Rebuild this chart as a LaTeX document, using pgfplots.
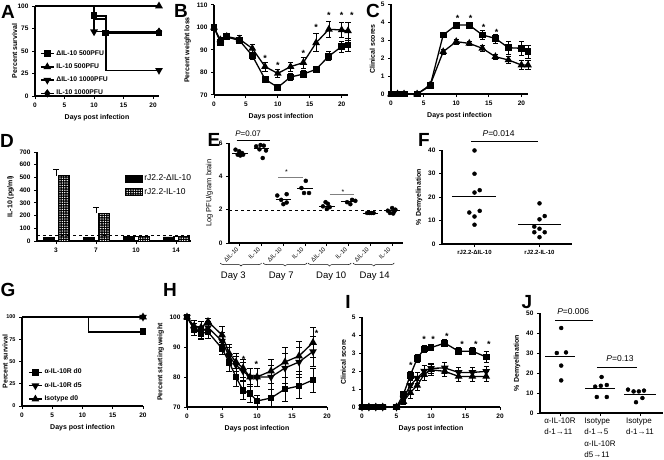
\documentclass[border=0pt]{standalone}
\usepackage{fontspec}
\setmainfont{Liberation Sans}
\usepackage{pgfplots}
\pgfplotsset{compat=1.18}
\usetikzlibrary{patterns,patterns.meta,decorations.pathreplacing}

\newcommand\tk{\fontsize{6.5}{7}\selectfont\bfseries}
\newcommand\lb{\fontsize{7}{8}\selectfont\bfseries}
\newcommand\rg[1]{\fontsize{#1}{#1}\selectfont}

\pgfplotsset{
  gp/.style={scale only axis, anchor=south west,
    axis x line*=bottom, axis y line*=left,
    tick align=outside, major tick length=3pt,
    axis line style={line width=1.1pt},
    every tick/.style={black, line width=1pt},
    tick label style={font=\tk},
    /pgf/number format/assume math mode=true,
    label style={font=\lb}, ylabel shift=-1pt,
    enlargelimits=false, clip=false},
  ln/.style={black, line width=1.3pt, mark options={solid, fill=black}},
  sq/.style={ln, mark=square*, mark size=2.8pt},
  tu/.style={ln, mark=triangle*, mark size=3.2pt},
  td/.style={ln, mark=triangle*, mark size=3.2pt, mark options={solid, fill=black, rotate=180}},
  dm/.style={ln, mark=diamond*, mark size=3.2pt},
  eb/.style={error bars/y dir=both, error bars/y explicit,
    error bars/error bar style={line width=0.7pt},
    error bars/error mark options={rotate=90, mark size=2.6pt, line width=0.7pt}},
  dot/.style={only marks, mark=*, mark size=2pt, black, forget plot},
  legA/.style={legend style={draw=none, fill=none, font=\fontsize{6.8}{7}\selectfont\bfseries, inner sep=0pt, row sep=3pt}, legend cell align=left,
    legend image code/.code={\draw[##1,mark=none] (0pt,0pt) -- (13pt,0pt); \draw[##1] plot coordinates {(6.5pt,0pt)};}},
}
\tikzset{star/.style={font=\fontsize{9}{9}\selectfont\bfseries, inner sep=0pt, anchor=base, yshift=-5pt},
  pl/.style={font=\fontsize{19}{19}\selectfont\bfseries},
  chk/.style={fill=black, draw=black, postaction={pattern={Dots[radius=0.75pt, distance=2.4pt]}, pattern color=white}}}
\newcommand\mline[3]{\addplot[black, line width=0.8pt, forget plot] coordinates {(#1,#3)(#2,#3)};}

\begin{document}
\begin{tikzpicture}
\path[use as bounding box] (0pt,0pt) rectangle (664pt,459pt);

% ---------- A ----------
\begin{axis}[gp, legA, at={(35pt,363pt)}, width=124pt, height=90pt,
  xmin=0, xmax=21, ymin=0, ymax=100, xtick={0,5,10,15,20}, ytick={0,25,50,75,100},
  xlabel={Days post infection}, ylabel={Percent survival},
  ylabel style={at={(axis description cs:-0.165,0.5)}, anchor=center},
  legend style={at={(0.04,0.53)}, anchor=north west}]
\addlegendimage{sq}\addlegendentry{ΔIL-10 500PFU}
\addlegendimage{tu}\addlegendentry{IL-10 500PFU}
\addlegendimage{td}\addlegendentry{ΔIL-10 1000PFU}
\addlegendimage{dm}\addlegendentry{IL-10 1000PFU}
\addplot[ln, forget plot] coordinates {(0,100)(10,100)(10,89)(12,89)(12,70)(21,70)};
\addplot[sq, only marks, forget plot] coordinates {(10,89)(12,70)(21,70)};
\addplot[ln, forget plot] coordinates {(0,100)(21,100)};
\addplot[tu, only marks, forget plot] coordinates {(21,100)};
\addplot[ln, forget plot] coordinates {(0,100)(10,100)(10,71.4)(12,71.4)(12,28.6)(21,28.6)};
\addplot[td, only marks, forget plot] coordinates {(10,71.4)(21,28.6)};
\addplot[ln, forget plot] coordinates {(0,100)(10,100)(10,85.7)(12,85.7)(12,71.4)(21,71.4)};
\addplot[dm, only marks, forget plot] coordinates {(21,71.4)};
\end{axis}

% ---------- B ----------
\begin{axis}[gp, at={(214pt,364pt)}, width=134pt, height=90pt,
  xmin=0, xmax=21, ymin=70, ymax=110, xtick={0,5,10,15,20}, ytick={70,80,90,100,110},
  xlabel={Days post infection}, ylabel={Percent weight loss}]
\addplot[tu, eb] coordinates {(0,100)+-(0,0) (1,94.5)+-(0,1) (2,96)+-(0,1) (4,94.8)+-(0,1.5)
  (6,90.7)+-(0,1.8) (8,82.6)+-(0,2) (10,79.6)+-(0,1.8) (12,82.6)+-(0,2) (14,84.4)+-(0,2.5)
  (16,93.2)+-(0,4) (18,99.2)+-(0,3.5) (20,98.9)+-(0,3.5) (21,98.5)+-(0,4)};
\addplot[sq, eb] coordinates {(0,100)+-(0,0) (1,93.5)+-(0,1.5) (2,95.8)+-(0,1) (4,94.2)+-(0,1.2)
  (6,87.5)+-(0,1.5) (8,77)+-(0,1.2) (10,73.4)+-(0,1.2) (12,78)+-(0,1.5) (14,79.3)+-(0,1.5)
  (16,81.4)+-(0,1.5) (18,87.3)+-(0,2) (20,91.5)+-(0,2.5) (21,92.2)+-(0,3)};
\foreach \d/\v in {8/87,10/84,14/89.3,16/101,18/106.3,20/106.3,21.6/106.3}
  {\edef\tmp{\noexpand\node[star] at (axis cs:\d,\v) {*};}\tmp}
\end{axis}

% ---------- C ----------
\begin{axis}[gp, at={(391pt,365pt)}, width=137pt, height=90pt,
  xmin=0, xmax=21, ymin=0, ymax=5, xtick={0,5,10,15,20}, ytick={0,1,...,5},
  xlabel={Days post infection}, ylabel={Clinical scores}]
\addplot[tu, eb] coordinates {(0,0)+-(0,0) (1,0)+-(0,0) (2,0)+-(0,0) (4,0)+-(0,0)
  (6,0.5)+-(0,0.1) (8,2.35)+-(0,0.15) (10,2.91)+-(0,0.15) (12,2.81)+-(0,0.1) (14,2.54)+-(0,0.15)
  (16,2.07)+-(0,0.15) (18,1.89)+-(0,0.2) (20,1.61)+-(0,0.25) (21,1.61)+-(0,0.25)};
\addplot[sq, eb] coordinates {(0,0)+-(0,0) (1,0)+-(0,0) (2,0)+-(0,0) (4,0)+-(0,0)
  (6,0.45)+-(0,0.1) (8,3.28)+-(0,0.15) (10,3.83)+-(0,0.12) (12,3.83)+-(0,0.15) (14,3.28)+-(0,0.25)
  (16,3.09)+-(0,0.25) (18,2.57)+-(0,0.35) (20,2.54)+-(0,0.4) (21,2.35)+-(0,0.35)};
\foreach \d/\v in {10.2/4.3,12.2/4.3,14.2/3.83,16.2/3.52}
  {\edef\tmp{\noexpand\node[star] at (axis cs:\d,\v) {*};}\tmp}
\end{axis}

% ---------- D ----------
\begin{axis}[gp, at={(37pt,218pt)}, width=154pt, height=89pt,
  xmin=0.525, xmax=4.375, ymin=0, ymax=700, ytick={0,100,...,700},
  xtick={1,2,3,4}, xticklabels={3,7,10,14}, ylabel={IL-10 (pg/ml)},
  legend style={at={(0.57,0.77)}, anchor=north west, draw=none, fill=none,
    font=\rg{8.5}, inner sep=0pt, row sep=2pt}, legend cell align=left,
  legend image code/.code={\draw[#1] (0pt,-3.5pt) rectangle (17pt,3.5pt);}]
\addlegendimage{fill=black, draw=black}\addlegendentry{rJ2.2-ΔIL-10}
\addlegendimage{chk}\addlegendentry{rJ2.2-IL-10}
\addplot[ybar, bar width=11pt, bar shift=-7.5pt, fill=black, draw=black, forget plot]
  coordinates {(1,30)(2,28)(3,35)(4,33)};
\addplot[ybar, bar width=11pt, bar shift=7.5pt, chk, line width=0.7pt, forget plot,
  error bars/y dir=plus, error bars/y explicit, error bars/error bar style={line width=0.8pt},
  error bars/error mark options={rotate=90, mark size=3pt, line width=0.8pt}]
  coordinates {(1,515)+-(0,45) (2,220)+-(0,45) (3,35)+-(0,0) (4,35)+-(0,0)};
\addplot[dashed, line width=0.8pt, forget plot] coordinates {(0.525,45)(4.375,45)};
\end{axis}

% ---------- E ----------
\begin{axis}[gp, at={(229pt,216pt)}, width=174pt, height=100pt,
  xmin=0.5, xmax=8.5, ymin=0, ymax=6, ytick={0,2,4,6}, xtick={1,...,8},
  xticklabels={ΔIL-10,IL-10,ΔIL-10,IL-10,ΔIL-10,IL-10,ΔIL-10,IL-10},
  xticklabel style={rotate=45, anchor=east, font=\rg{6}},
  ylabel={Log PFU/gram brain}, ylabel style={font=\rg{7.5}}]
\addplot[dashed, line width=0.8pt, forget plot] coordinates {(0.5,1.95)(8.5,1.95)};
\addplot[dot] coordinates {(0.8,5.6)(0.97,5.5)(1.1,5.4)(0.9,5.3)(1.15,5.3)(1.02,5.25)};
\addplot[dot] coordinates {(1.75,5.8)(1.95,5.88)(2.1,5.84)(1.9,5.62)(2.2,5.55)(2.05,5.1)};
\addplot[dot] coordinates {(2.72,2.85)(3.15,2.93)(2.9,2.59)(3.0,2.33)(3.15,2.43)};
\addplot[dot] coordinates {(4.03,3.73)(3.83,3.3)(3.95,3.0)(4.18,3.0)};
\addplot[dot] coordinates {(4.94,2.45)(5.05,2.35)(4.82,2.2)(5.0,2.04)(5.13,2.15)};
\addplot[dot] coordinates {(5.93,2.45)(6.16,2.59)(6.31,2.53)(6.08,2.33)};
\addplot[dot] coordinates {(6.85,1.8)(6.95,1.8)(7.05,1.8)(7.15,1.8)};
\addplot[dot] coordinates {(8.0,2.1)(7.8,1.94)(8.1,1.9)(7.9,1.8)(8.05,1.77)(8.15,2.0)};
\mline{0.64}{1.36}{5.4}
\mline{1.64}{2.36}{5.65}
\mline{2.64}{3.36}{2.63}
\mline{3.64}{4.36}{3.25}
\mline{4.64}{5.36}{2.2}
\mline{5.64}{6.36}{2.5}
\mline{6.64}{7.36}{1.8}
\mline{7.64}{8.36}{1.95}
\draw[line width=0.7pt] (axis cs:0.85,6.13) -- (axis cs:2.38,6.13);
\node[font=\rg{8}] at (axis cs:1.38,6.57) {\textit{P}=0.07};
\draw[line width=0.7pt, gray] (axis cs:2.76,3.91) -- (axis cs:3.88,3.91);
\node[star, font=\rg{7}] at (axis cs:3.14,4.41) {*};
\draw[line width=0.7pt, gray] (axis cs:5.13,2.93) -- (axis cs:6.23,2.93);
\node[star, font=\rg{7}] at (axis cs:5.74,3.21) {*};
\foreach \a/\b in {0.1/2.0,2.07/4.09,4.13/6.12,6.2/8.1}
  {\edef\tmp{\noexpand\draw[line width=0.5pt, decorate, decoration={brace, mirror, amplitude=3pt}] ([yshift=-20pt]axis cs:\a,0) -- ([yshift=-20pt]axis cs:\b,0);}\tmp}
\node[font=\rg{9.5}] at ([yshift=-33pt]axis cs:0.7,0) {Day 3};
\node[font=\rg{9.5}] at ([yshift=-33pt]axis cs:2.9,0) {Day 7};
\node[font=\rg{9.5}] at ([yshift=-33pt]axis cs:5.2,0) {Day 10};
\node[font=\rg{9.5}] at ([yshift=-33pt]axis cs:7.2,0) {Day 14};
\end{axis}

% ---------- F ----------
\begin{axis}[gp, at={(442pt,215pt)}, width=130pt, height=94pt,
  xmin=0.5, xmax=2.5, ymin=0, ymax=40, ytick={0,10,...,40},
  xtick={1,2}, xticklabels={rJ2.2-ΔIL-10, rJ2.2-IL-10}, xticklabel style={font=\rg{6}\bfseries},
  ylabel={\% Demyelination}]
\addplot[dot] coordinates {(1,39.8)(1,29.9)(1,21.9)(1.08,22.9)(1.08,14.1)(0.92,13.4)(1,11.7)(1,8.2)};
\addplot[dot] coordinates {(2,17.3)(2.08,11.9)(2,10.5)(1.92,7.4)(2,6.5)(1.92,5.0)(2.08,5.0)(2,2.9)};
\mline{0.65}{1.33}{20.4}
\mline{1.67}{2.33}{8.4}
\draw[line width=0.7pt] (axis cs:0.95,43.6) -- (axis cs:1.98,43.6);
\node[font=\rg{8.5}] at (axis cs:1.37,47) {\textit{P}=0.014};
\end{axis}

% ---------- G ----------
\begin{axis}[gp, legA, at={(22pt,53pt)}, width=121pt, height=89pt,
  xmin=0, xmax=20, ymin=0, ymax=100, xtick={0,5,10,15,20}, ytick={0,25,50,75,100},
  yticklabel style={font=\fontsize{5.5}{6}\selectfont\bfseries},
  xlabel={Days post infection}, ylabel={Percent survival},
  ylabel style={at={(axis description cs:-0.14,0.5)}, anchor=center},
  legend style={at={(0.05,0.44)}, anchor=north west}]
\addlegendimage{sq}\addlegendentry{α-IL-10R d0}
\addlegendimage{td}\addlegendentry{α-IL-10R d5}
\addlegendimage{tu}\addlegendentry{Isotype d0}
\addplot[ln, forget plot] coordinates {(0,100)(11,100)(11,83.3)(20,83.3)};
\addplot[sq, only marks, forget plot] coordinates {(20,83.3)};
\addplot[ln, forget plot] coordinates {(0,100)(20,100)};
\addplot[td, only marks, forget plot] coordinates {(20,100)};
\addplot[tu, only marks, forget plot] coordinates {(20,100)};
\end{axis}

% ---------- H ----------
\begin{axis}[gp, at={(187pt,52pt)}, width=140pt, height=90pt,
  xmin=0, xmax=20, ymin=70, ymax=100, xtick={0,5,10,15,20}, ytick={70,80,90,100},
  xlabel={Days post infection}, ylabel={Percent starting weight}]
\addplot[tu, eb] coordinates {(0,100)+-(0,0) (1,97)+-(0,2) (2,96.5)+-(0,2) (3,98.5)+-(0,1)
  (5,94)+-(0,3) (6,88)+-(0,3) (7,85)+-(0,3) (8,83)+-(0,3) (9,80)+-(0,3) (10,80)+-(0,3)
  (12,82)+-(0,4) (14,85)+-(0,5) (16,87)+-(0,5) (18,91.5)+-(0,5)};
\addplot[td, eb] coordinates {(0,100)+-(0,0) (1,96)+-(0,2) (2,95)+-(0,2) (3,96.5)+-(0,2)
  (5,92)+-(0,3) (6,87)+-(0,3) (7,84)+-(0,3) (8,82)+-(0,3) (9,80)+-(0,3) (10,80)+-(0,3)
  (12,80)+-(0,4) (14,83)+-(0,5) (16,85)+-(0,5) (18,88.5)+-(0,5)};
\addplot[sq, eb] coordinates {(0,100)+-(0,0) (1,96)+-(0,2) (2,94.5)+-(0,2) (3,95)+-(0,2)
  (5,89.5)+-(0,2) (6,85)+-(0,3) (7,80)+-(0,3) (8,75.5)+-(0,3) (9,74.5)+-(0,3) (10,72)+-(0,2)
  (12,73)+-(0,3) (14,76)+-(0,4) (16,77)+-(0,4) (18,79)+-(0,4)};
\foreach \d/\v in {8.1/86.5,9.9/85,18.5/95.2}
  {\edef\tmp{\noexpand\node[star] at (axis cs:\d,\v) {*};}\tmp}
\end{axis}

% ---------- I ----------
\begin{axis}[gp, at={(362pt,52pt)}, width=138pt, height=90pt,
  xmin=0, xmax=20, ymin=0, ymax=5, xtick={0,5,10,15,20}, ytick={0,1,...,5},
  xlabel={Days post infection}, ylabel={Clinical score}]
\addplot[tu, eb] coordinates {(0,0)+-(0,0) (1,0)+-(0,0) (2,0)+-(0,0) (3,0)+-(0,0) (5,0)+-(0,0)
  (6,0.3)+-(0,0.15) (7,0.8)+-(0,0.3) (8,1.2)+-(0,0.3) (9,1.8)+-(0,0.3) (10,2.07)+-(0,0.3)
  (12,1.98)+-(0,0.3) (14,1.7)+-(0,0.3) (16,1.7)+-(0,0.3) (18,1.7)+-(0,0.3)};
\addplot[td, eb] coordinates {(0,0)+-(0,0) (1,0)+-(0,0) (2,0)+-(0,0) (3,0)+-(0,0) (5,0)+-(0,0)
  (6,0.5)+-(0,0.15) (7,1.2)+-(0,0.3) (8,1.6)+-(0,0.3) (9,2.0)+-(0,0.3) (10,2.15)+-(0,0.3)
  (12,2.17)+-(0,0.3) (14,1.92)+-(0,0.3) (16,1.92)+-(0,0.3) (18,1.98)+-(0,0.3)};
\addplot[sq, eb] coordinates {(0,0)+-(0,0) (1,0)+-(0,0) (2,0)+-(0,0) (3,0)+-(0,0) (5,0)+-(0,0)
  (6,0.7)+-(0,0.15) (7,1.76)+-(0,0.2) (8,2.7)+-(0,0.2) (9,3.22)+-(0,0.2) (10,3.3)+-(0,0.15)
  (12,3.55)+-(0,0.2) (14,3.1)+-(0,0.2) (16,3.1)+-(0,0.2) (18,2.78)+-(0,0.3)};
\foreach \d/\v in {7.1/2.4,9/3.85,10.3/3.85,12.3/4.05,14.5/3.6,16.5/3.6,18.4/3.6}
  {\edef\tmp{\noexpand\node[star] at (axis cs:\d,\v) {*};}\tmp}
\end{axis}

% ---------- J ----------
\begin{axis}[gp, at={(540pt,46pt)}, width=123pt, height=100pt,
  xmin=0.5, xmax=3.575, ymin=0, ymax=50, ytick={0,10,...,50},
  xtick={1,2,3}, xticklabels={{α-IL-10R\\d-1→11},{Isotype\\d-1→5\\α-IL-10R\\d5→11},{Isotype\\d-1→11}},
  xticklabel style={font=\fontsize{8}{11.5}\selectfont, align=left, anchor=north, yshift=2pt},
  ylabel={\% Demyelination}]
\addplot[dot] coordinates {(1.03,42.5)(0.92,30)(1.15,30.3)(1.03,23.7)(1.03,16.3)};
\addplot[dot] coordinates {(2.04,18)(1.88,13.2)(2.02,13.6)(2.17,14)(1.92,8)(2.17,8)};
\addplot[dot] coordinates {(2.7,11.7)(2.84,10.8)(2.97,10.8)(3.1,11.2)(2.9,5.4)(3.06,7.5)};
\mline{0.63}{1.38}{28.3}
\mline{1.63}{2.38}{12.4}
\mline{2.6}{3.4}{9.5}
\draw[line width=0.7pt] (axis cs:0.88,46.2) -- (axis cs:1.83,46.2);
\node[font=\rg{8.5}] at (axis cs:1.33,50.5) {\textit{P}=0.006};
\draw[line width=0.7pt] (axis cs:1.92,23) -- (axis cs:2.92,23);
\node[font=\rg{8.5}] at (axis cs:2.5,27) {\textit{P}=0.13};
\end{axis}

% panel letters
\node[pl] at (8pt,447pt) {A};
\node[pl] at (181pt,448pt) {B};
\node[pl] at (373pt,448pt) {C};
\node[pl] at (7pt,318pt) {D};
\node[pl] at (214pt,319pt) {E};
\node[pl] at (424pt,319pt) {F};
\node[pl] at (8pt,169pt) {G};
\node[pl] at (170pt,169pt) {H};
\node[pl] at (348pt,157pt) {I};
\node[pl] at (527pt,157pt) {J};
\end{tikzpicture}
\end{document}
